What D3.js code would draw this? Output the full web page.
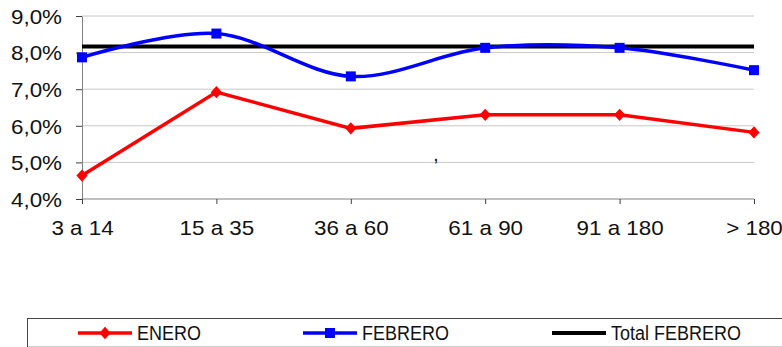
<!DOCTYPE html>
<html>
<head>
<meta charset="utf-8">
<script src="https://cdn.jsdelivr.net/npm/d3@7"></script>
<style>
  html, body { margin: 0; padding: 0; background: #fff; }
  svg { display: block; font-family: "Liberation Sans", Arial, sans-serif; }
</style>
</head>
<body>
<svg id="chart" width="782" height="347"></svg>
<script>
// Plazos (días) and rates per month
const categories = ["3 a 14", "15 a 35", "36 a 60", "61 a 90", "91 a 180", "> 180"];
const enero = [4.64, 6.92, 5.93, 6.30, 6.30, 5.82];
const febrero = [7.87, 8.52, 7.35, 8.13, 8.13, 7.52];
const totalFebrero = 8.17;
const yTicks = [4, 5, 6, 7, 8, 9];
const seriesNames = ["ENERO", "FEBRERO", "Total FEBRERO"];

const svg = d3.select("#chart");
const fmt = v => v.toFixed(1).replace(".", ",") + "%";
const stretch = 1.12; // axis labels are drawn slightly wide

const x = d3.scalePoint().domain(categories).range([82, 754]);
const y = d3.scaleLinear().domain([4, 9]).range([199, 16]);

// gridlines
svg.append("g")
  .selectAll("line")
  .data(yTicks.slice(1))
  .join("line")
  .attr("x1", 82).attr("x2", 754)
  .attr("y1", d => y(d)).attr("y2", d => y(d))
  .attr("stroke", "#c8c8c8").attr("stroke-width", 1);

// y axis
const yAxis = svg.append("g")
  .attr("transform", "translate(82,0)")
  .call(d3.axisLeft(y).tickValues(yTicks).tickFormat(fmt).tickSize(6).tickSizeOuter(0));
yAxis.select(".domain").attr("stroke", "#808080");
yAxis.selectAll(".tick line").attr("stroke", "#404040");
yAxis.selectAll(".tick text")
  .attr("x", -20 / stretch)
  .attr("dy", "0.36em")
  .attr("transform", `scale(${stretch},1)`)
  .attr("font-size", 20)
  .attr("font-family", "Liberation Sans, Arial, sans-serif")
  .attr("fill", "#111");

// x axis
const xAxis = svg.append("g")
  .attr("transform", "translate(0,199)")
  .call(d3.axisBottom(x).tickSize(5).tickSizeOuter(0));
xAxis.select(".domain").attr("stroke", "#808080").attr("d", "M82,0H754");
xAxis.selectAll(".tick line").attr("stroke", "#404040");
xAxis.selectAll(".tick text")
  .attr("y", 22)
  .attr("dy", "0.71em")
  .attr("transform", `scale(${stretch},1)`)
  .attr("font-size", 20)
  .attr("font-family", "Liberation Sans, Arial, sans-serif")
  .attr("fill", "#111");

// Total FEBRERO reference line
svg.append("line")
  .attr("x1", x(categories[0])).attr("x2", x(categories[categories.length - 1]))
  .attr("y1", y(totalFebrero)).attr("y2", y(totalFebrero))
  .attr("stroke", "#000").attr("stroke-width", 4);

// FEBRERO (smoothed)
const smooth = d3.line().x((d, i) => x(categories[i])).y(d => y(d)).curve(d3.curveCardinal.tension(0));
svg.append("path").datum(febrero)
  .attr("d", smooth)
  .attr("fill", "none").attr("stroke", "#0000ff").attr("stroke-width", 3.5);
svg.append("g").selectAll("rect").data(febrero).join("rect")
  .attr("x", (d, i) => x(categories[i]) - 5)
  .attr("y", d => y(d) - 5)
  .attr("width", 10).attr("height", 10)
  .attr("fill", "#0000ff");

// ENERO (straight segments)
const straight = d3.line().x((d, i) => x(categories[i])).y(d => y(d));
svg.append("path").datum(enero)
  .attr("d", straight)
  .attr("fill", "none").attr("stroke", "#ff0000").attr("stroke-width", 3.5);
const diamond = d3.symbol().type(d3.symbolDiamond2).size(80);
svg.append("g").selectAll("path").data(enero).join("path")
  .attr("d", diamond)
  .attr("transform", (d, i) => `translate(${x(categories[i])},${y(d)}) scale(1,1.1)`)
  .attr("fill", "#ff0000");

// stray mark inside plot
svg.append("text")
  .attr("x", 434).attr("y", 161)
  .attr("font-size", 14).attr("font-weight", "bold")
  .attr("fill", "#222")
  .text(",");

// legend
const legend = svg.append("g");
legend.append("rect")
  .attr("x", 27.5).attr("y", 318.5).attr("width", 800).attr("height", 60)
  .attr("fill", "#fff").attr("stroke", "#444").attr("stroke-width", 1);
legend.append("line")
  .attr("x1", 28).attr("x2", 782).attr("y1", 346.5).attr("y2", 346.5)
  .attr("stroke", "#d0d0d0");

const legendItems = [
  { name: seriesNames[0], x0: 78, color: "#ff0000", marker: "diamond" },
  { name: seriesNames[1], x0: 303, color: "#0000ff", marker: "square" },
  { name: seriesNames[2], x0: 552, color: "#000000", marker: null }
];
const ly = 333;
legendItems.forEach(it => {
  legend.append("line")
    .attr("x1", it.x0).attr("x2", it.x0 + 54)
    .attr("y1", ly).attr("y2", ly)
    .attr("stroke", it.color).attr("stroke-width", it.marker ? 3.5 : 4);
  if (it.marker === "diamond") {
    legend.append("path").attr("d", diamond)
      .attr("transform", `translate(${it.x0 + 27},${ly}) scale(1,1.1)`)
      .attr("fill", it.color);
  } else if (it.marker === "square") {
    legend.append("rect")
      .attr("x", it.x0 + 22).attr("y", ly - 5)
      .attr("width", 10).attr("height", 10)
      .attr("fill", it.color);
  }
  legend.append("text")
    .attr("transform", `translate(${it.x0 + 59},${ly + 7}) scale(1,1.12)`)
    .attr("font-size", 18)
    .attr("fill", "#111")
    .text(it.name);
});
</script>
</body>
</html>
